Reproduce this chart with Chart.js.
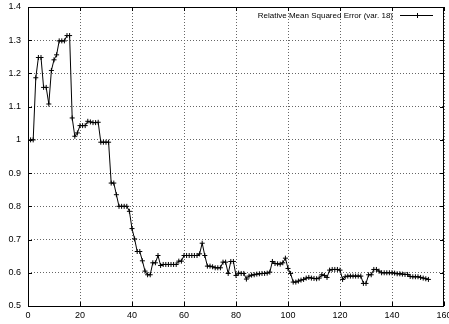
<!DOCTYPE html>
<html>
<head>
<meta charset="utf-8">
<script src="https://cdn.jsdelivr.net/npm/chart.js@4"></script>
<style>
  html, body { margin: 0; padding: 0; background: #fff; }
</style>
</head>
<body>
<canvas id="chart" width="449" height="324"></canvas>
<script>
// iteration numbers on the x axis
const steps = [
    1, 2, 3, 4, 5, 6, 7, 8, 9, 10, 11, 12, 13, 14, 15, 16, 17, 18, 19, 20,
    21, 22, 23, 24, 25, 26, 27, 28, 29, 30, 31, 32, 33, 34, 35, 36, 37, 38, 39, 40,
    41, 42, 43, 44, 45, 46, 47, 48, 49, 50, 51, 52, 53, 54, 55, 56, 57, 58, 59, 60,
    61, 62, 63, 64, 65, 66, 67, 68, 69, 70, 71, 72, 73, 74, 75, 76, 77, 78, 79, 80,
    81, 82, 83, 84, 85, 86, 87, 88, 89, 90, 91, 92, 93, 94, 95, 96, 97, 98, 99, 100,
    101, 102, 103, 104, 105, 106, 107, 108, 109, 110, 111, 112, 113, 114, 115, 116, 117, 118, 119, 120,
    121, 122, 123, 124, 125, 126, 127, 128, 129, 130, 131, 132, 133, 134, 135, 136, 137, 138, 139, 140,
    141, 142, 143, 144, 145, 146, 147, 148, 149, 150, 151, 152, 153, 154
]

// relative mean squared error
const rmse = [
    1.000, 1.000, 1.187, 1.248, 1.248, 1.158, 1.158, 1.108, 1.209, 1.241,
    1.256, 1.298, 1.298, 1.298, 1.314, 1.314, 1.066, 1.011, 1.021, 1.043,
    1.043, 1.043, 1.056, 1.054, 1.052, 1.052, 1.053, 0.993, 0.993, 0.993,
    0.993, 0.870, 0.870, 0.835, 0.800, 0.800, 0.800, 0.800, 0.785, 0.733,
    0.702, 0.664, 0.664, 0.636, 0.605, 0.594, 0.594, 0.630, 0.630, 0.652,
    0.622, 0.625, 0.625, 0.625, 0.625, 0.625, 0.625, 0.635, 0.635, 0.652,
    0.652, 0.652, 0.652, 0.652, 0.652, 0.657, 0.689, 0.652, 0.620, 0.620,
    0.618, 0.615, 0.615, 0.615, 0.632, 0.632, 0.598, 0.634, 0.634, 0.592,
    0.599, 0.598, 0.598, 0.581, 0.590, 0.593, 0.594, 0.596, 0.597, 0.598,
    0.598, 0.599, 0.602, 0.634, 0.628, 0.627, 0.626, 0.630, 0.644, 0.613,
    0.598, 0.572, 0.572, 0.575, 0.578, 0.580, 0.584, 0.586, 0.584, 0.583,
    0.582, 0.584, 0.594, 0.592, 0.586, 0.608, 0.610, 0.610, 0.610, 0.608,
    0.580, 0.588, 0.590, 0.590, 0.590, 0.590, 0.590, 0.590, 0.568, 0.568,
    0.594, 0.594, 0.610, 0.610, 0.605, 0.600, 0.600, 0.600, 0.600, 0.600,
    0.599, 0.597, 0.597, 0.596, 0.595, 0.595, 0.589, 0.588, 0.588, 0.588,
    0.586, 0.584, 0.582, 0.580
]

const seriesLabel = 'Relative Mean Squared Error (var. 18)'
const xTicks = [0, 20, 40, 60, 80, 100, 120, 140, 160]
const yTicks = [0.5, 0.6, 0.7, 0.8, 0.9, 1.0, 1.1, 1.2, 1.3, 1.4]

const FONT = { family: '"Liberation Sans", Arial, sans-serif', size: 9 }

// gnuplot style: box frame, inward tick marks, legend inside top right
const gnuplotFrame = {
    id: 'gnuplotFrame',
    afterDatasetsDraw(chart) {
        const ctx = chart.ctx
        const a = chart.chartArea
        const xs = chart.scales.x
        const ys = chart.scales.y
        ctx.save()
        ctx.strokeStyle = '#000'
        ctx.lineWidth = 1
        ctx.beginPath()
        for (let t of xTicks) {
            const px = Math.round(xs.getPixelForValue(t)) + 0.5
            ctx.moveTo(px, a.bottom)
            ctx.lineTo(px, a.bottom - 4)
            ctx.moveTo(px, a.top)
            ctx.lineTo(px, a.top + 4)
        }
        for (let t of yTicks) {
            const py = Math.round(ys.getPixelForValue(t)) + 0.5
            ctx.moveTo(a.left, py)
            ctx.lineTo(a.left + 4, py)
            ctx.moveTo(a.right, py)
            ctx.lineTo(a.right - 4, py)
        }
        ctx.stroke()
        ctx.strokeRect(Math.round(a.left) + 0.5, Math.round(a.top) + 0.5,
            Math.round(a.right - a.left) - 1, Math.round(a.bottom - a.top))

        // legend
        const ly = a.top + 8.5
        const lineStart = a.right - 44
        const lineEnd = a.right - 11
        ctx.fillStyle = '#000'
        ctx.font = '8px ' + FONT.family
        ctx.textAlign = 'right'
        ctx.textBaseline = 'middle'
        ctx.fillText(chart.data.datasets[0].label, lineStart - 7, ly)
        ctx.beginPath()
        ctx.moveTo(lineStart, ly)
        ctx.lineTo(lineEnd, ly)
        const mid = Math.round((lineStart + lineEnd) / 2) + 0.5
        ctx.moveTo(mid, ly - 2.5)
        ctx.lineTo(mid, ly + 2.5)
        ctx.moveTo(mid - 2.5, ly)
        ctx.lineTo(mid + 2.5, ly)
        ctx.stroke()
        ctx.restore()
    }
}

const points = steps.map((s, i) => ({ x: s, y: rmse[i] }))

new Chart(document.getElementById('chart'), {
    type: 'line',
    data: {
        datasets: [{
            label: seriesLabel,
            data: points,
            borderColor: '#000',
            borderWidth: 1,
            backgroundColor: '#000',
            pointStyle: 'cross',
            pointRadius: 2.5,
            pointBorderWidth: 1,
            pointBorderColor: '#000',
            tension: 0,
            fill: false
        }]
    },
    options: {
        responsive: false,
        animation: false,
        layout: { padding: { top: 7, right: 1, left: 0, bottom: 0 } },
        plugins: {
            legend: { display: false },
            tooltip: { enabled: false }
        },
        scales: {
            x: {
                type: 'linear',
                min: 0,
                max: 160,
                afterBuildTicks: (s) => { s.ticks = xTicks.map(v => ({ value: v })) },
                afterFit: (s) => { s.height = 18; s.paddingLeft = 0; s.paddingRight = 0 },
                ticks: { font: FONT, color: '#000', padding: 4, maxRotation: 0,
                         callback: (v) => String(v) },
                grid: { color: '#666', drawTicks: false },
                border: { display: false, dash: [1, 2] }
            },
            y: {
                min: 0.5,
                max: 1.4,
                afterBuildTicks: (s) => { s.ticks = yTicks.map(v => ({ value: v })) },
                afterFit: (s) => { s.width = 28; s.paddingTop = 0; s.paddingBottom = 0 },
                ticks: { font: FONT, color: '#000', padding: 7,
                         callback: (v) => String(+v.toFixed(1)) },
                grid: { color: '#666', drawTicks: false },
                border: { display: false, dash: [1, 2] }
            }
        }
    },
    plugins: [gnuplotFrame]
})
</script>
</body>
</html>
